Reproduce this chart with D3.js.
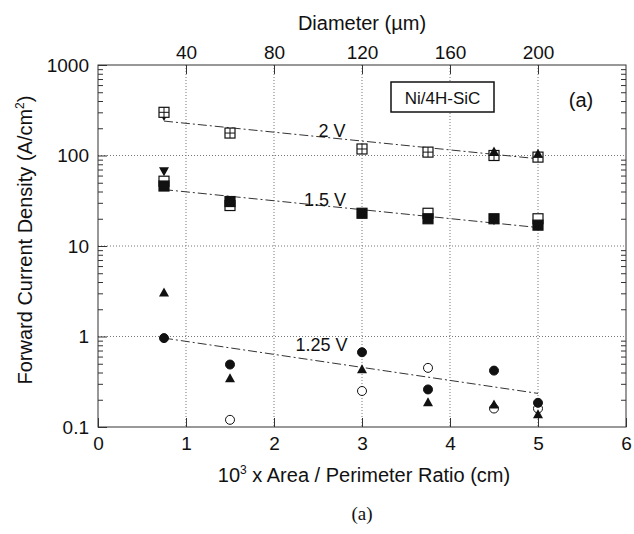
<!DOCTYPE html>
<html><head><meta charset="utf-8">
<script src="https://cdn.jsdelivr.net/npm/d3@7"></script>
<style>body{margin:0;background:#fff}svg{display:block}text{font-family:"Liberation Sans",Arial,sans-serif;fill:#111}</style>
</head><body><svg id="c" width="634" height="534"></svg>
<script>
// ---- data ----
const xVals = [0.75, 1.5, 3, 3.75, 4.5, 5];
const v2CrossSquare = [300, 177, 118, 109, 100, 96];
const v2TriDown     = [270, null, null, null, null, null];
const v2TriUp       = [null, null, null, null, 112, 106];
const v15TriDown    = [66, null, null, null, 19, null];
const v15OpenSquare = [52, 28, null, 23, null, 20];
const v15FillSquare = [46, 31, 23, 20, 20, 17];
const v125FillCircle = [0.96, 0.49, 0.67, 0.26, 0.42, 0.185];
const v125FillTri    = [3.1, 0.35, 0.44, 0.19, 0.18, 0.14];
const v125OpenCircle = [null, 0.12, 0.25, 0.45, 0.16, 0.16];
const fitX = [0.75, 5];
const fit2V = [240, 92];
const fit15V = [42, 16];
const fit125V = [0.96, 0.235];
const xTicks = [0, 1, 2, 3, 4, 5, 6];
const yTicks = [0.1, 1, 10, 100, 1000];
const yTickLabels = ["0.1", "1", "10", "100", "1000"];
const diamTicks = [40, 80, 120, 160, 200];
const voltLabels = [{t: "2 V", x: 2.66, y: 160}, {t: "1.5 V", x: 2.58, y: 28}, {t: "1.25 V", x: 2.54, y: 0.7}];

// ---- layout ----
const L = 98, R = 626, T = 65, B = 427;
const svg = d3.select("#c");
const x = d3.scaleLinear().domain([0, 6]).range([L, R]);
const y = d3.scaleLog().domain([0.1, 1000]).range([B, T]);
const xTop = d3.scaleLinear().domain([0, 240]).range([x(0), x(6)]);

// grid
const g = svg.append("g");
g.selectAll("line.gx").data([1,2,3,4,5]).join("line")
  .attr("x1", d => x(d)).attr("x2", d => x(d)).attr("y1", T).attr("y2", B)
  .attr("stroke", "#777").attr("stroke-width", 1).attr("stroke-dasharray", "1,2");
g.selectAll("line.gy").data([1,10,100]).join("line")
  .attr("y1", d => y(d)).attr("y2", d => y(d)).attr("x1", L).attr("x2", R)
  .attr("stroke", "#777").attr("stroke-width", 1).attr("stroke-dasharray", "1,2");

// frame
svg.append("rect").attr("x", L).attr("y", T).attr("width", R - L).attr("height", B - T)
  .attr("fill", "none").attr("stroke", "#333").attr("stroke-width", 1);

// axes (ticks inward)
const minor = [];
for (let e = -1; e < 3; e++) for (let m = 2; m <= 9; m++) minor.push(m * Math.pow(10, e));
const ax = svg.append("g");
ax.append("g").attr("transform", `translate(${L},0)`)
  .call(d3.axisRight(y).tickValues(minor).tickSize(5).tickFormat(""))
  .call(s => s.select(".domain").remove());
ax.append("g").attr("transform", `translate(${R},0)`)
  .call(d3.axisLeft(y).tickValues(minor).tickSize(5).tickFormat(""))
  .call(s => s.select(".domain").remove());
ax.append("g").attr("transform", `translate(${L},0)`)
  .call(d3.axisLeft(y).tickValues(yTicks).tickSize(0).tickPadding(9).tickFormat((d, i) => yTickLabels[i]))
  .call(s => s.select(".domain").remove());
ax.append("g").attr("transform", `translate(${L},0)`)
  .call(d3.axisRight(y).tickValues(yTicks).tickSize(9).tickFormat(""))
  .call(s => s.select(".domain").remove());
ax.append("g").attr("transform", `translate(0,${B})`)
  .call(d3.axisTop(x).tickValues(xTicks).tickSize(9).tickFormat(""))
  .call(s => s.select(".domain").remove());
ax.append("g").attr("transform", `translate(0,${B})`)
  .call(d3.axisBottom(x).tickValues(xTicks).tickSize(0).tickPadding(10).tickFormat(d3.format("d")))
  .call(s => s.select(".domain").remove());
ax.append("g").attr("transform", `translate(0,${T})`)
  .call(d3.axisBottom(xTop).tickValues(diamTicks).tickSize(9).tickFormat(""))
  .call(s => s.select(".domain").remove());
ax.append("g").attr("transform", `translate(0,${T})`)
  .call(d3.axisTop(xTop).tickValues(diamTicks).tickSize(0).tickPadding(6).tickFormat(d3.format("d")))
  .call(s => s.select(".domain").remove());
ax.selectAll(".tick line").attr("stroke", "#333");
ax.selectAll("text").attr("font-size", 19).attr("font-family", "Liberation Sans, Arial, sans-serif").attr("fill", "#111");

// titles
svg.append("text").attr("x", (L + R) / 2).attr("y", 30).attr("text-anchor", "middle").attr("font-size", 20).text("Diameter (µm)");
const xt = svg.append("text").attr("x", 364).attr("y", 482).attr("text-anchor", "middle").attr("font-size", 20);
xt.append("tspan").text("10");
xt.append("tspan").attr("dy", -8).attr("font-size", 12).text("3");
xt.append("tspan").attr("dy", 8).text(" x Area / Perimeter Ratio (cm)");
const yt = svg.append("text").attr("transform", `translate(32,${(T + B) / 2 - 6}) rotate(-90)`).attr("text-anchor", "middle").attr("font-size", 20);
yt.append("tspan").text("Forward Current Density (A/cm");
yt.append("tspan").attr("dy", -8).attr("font-size", 12).text("2");
yt.append("tspan").attr("dy", 8).text(")");
svg.append("text").attr("x", 362).attr("y", 520).attr("text-anchor", "middle").attr("font-size", 19)
  .style("font-family", "Liberation Serif, Times New Roman, serif").text("(a)");

// fit lines
const line = d3.line().x(d => x(d[0])).y(d => y(d[1]));
[fit2V, fit15V, fit125V].forEach(f => {
  svg.append("path").attr("d", line(fitX.map((xv, i) => [xv, f[i]])))
    .attr("fill", "none").attr("stroke", "#333").attr("stroke-width", 1).attr("stroke-dasharray", "9,3,2,3");
});

// markers
const pts = arr => xVals.map((xv, i) => [xv, arr[i]]).filter(d => d[1] != null);
const sq = 10, r = 4.5;
function squares(arr, fill, cross) {
  const s = svg.append("g");
  s.selectAll("rect").data(pts(arr)).join("rect")
    .attr("x", d => x(d[0]) - sq / 2).attr("y", d => y(d[1]) - sq / 2).attr("width", sq).attr("height", sq)
    .attr("fill", fill).attr("stroke", "#111").attr("stroke-width", 1.2);
  if (cross) {
    s.selectAll("path").data(pts(arr)).join("path")
      .attr("d", d => { const cx = x(d[0]), cy = y(d[1]); return `M${cx - sq/2},${cy}H${cx + sq/2}M${cx},${cy - sq/2}V${cy + sq/2}`; })
      .attr("stroke", "#111").attr("stroke-width", 1).attr("fill", "none");
  }
}
function circles(arr, fill) {
  svg.append("g").selectAll("circle").data(pts(arr)).join("circle")
    .attr("cx", d => x(d[0])).attr("cy", d => y(d[1])).attr("r", r)
    .attr("fill", fill).attr("stroke", "#111").attr("stroke-width", 1);
}
function tris(arr, up) {
  const h = 9, w = 10;
  svg.append("g").selectAll("path").data(pts(arr)).join("path")
    .attr("d", d => { const cx = x(d[0]), cy = y(d[1]);
      return up ? `M${cx},${cy - h/2}L${cx + w/2},${cy + h/2}L${cx - w/2},${cy + h/2}Z`
                : `M${cx},${cy + h/2}L${cx + w/2},${cy - h/2}L${cx - w/2},${cy - h/2}Z`; })
    .attr("fill", "#111");
}
tris(v2TriDown, false);
squares(v2CrossSquare, "#fff", true);
tris(v2TriUp, true);
tris(v15TriDown, false);
squares(v15OpenSquare, "#fff", false);
squares(v15FillSquare, "#111", false);
circles(v125OpenCircle, "#fff");
tris(v125FillTri, true);
circles(v125FillCircle, "#111");

// annotations
svg.append("g").selectAll("text").data(voltLabels).join("text")
  .attr("x", d => x(d.x)).attr("y", d => y(d.y)).attr("text-anchor", "middle").attr("font-size", 18).text(d => d.t);
svg.append("rect").attr("x", 391).attr("y", 82).attr("width", 103).attr("height", 30)
  .attr("fill", "#fff").attr("stroke", "#111").attr("stroke-width", 1.5);
svg.append("text").attr("x", 442.5).attr("y", 103.5).attr("text-anchor", "middle").attr("font-size", 17).text("Ni/4H-SiC");
svg.append("text").attr("x", 581).attr("y", 107).attr("text-anchor", "middle").attr("font-size", 20).text("(a)");
</script></body></html>
